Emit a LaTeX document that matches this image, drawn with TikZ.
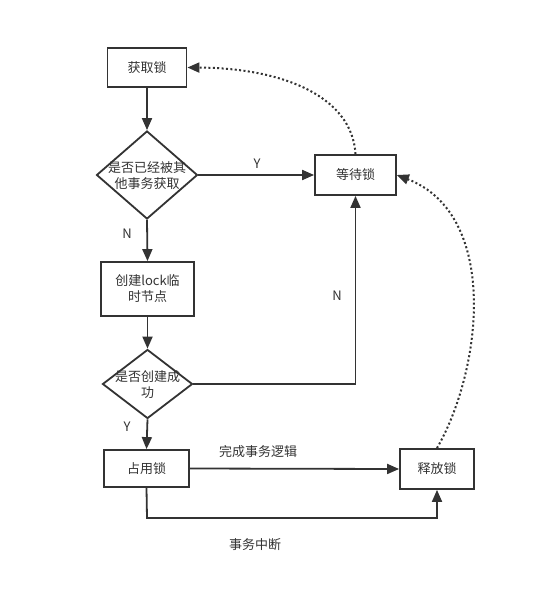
\documentclass[tikz,border=0pt]{standalone}
\usepackage{fontspec}
\newfontfamily\cjk{Noto Sans CJK SC}
\usetikzlibrary{shapes.geometric,arrows.meta}
\definecolor{ln}{HTML}{333333}
\tikzset{
  box/.style={draw=ln, line width=1.8pt, rectangle, inner sep=0pt, align=center, font=\cjk\fontsize{13}{16}\selectfont, text=ln},
  dia/.style={draw=ln, line width=1.8pt, diamond, inner sep=0pt},
  txt/.style={inner sep=0pt, align=center, font=\cjk\fontsize{13}{16}\selectfont, text=ln},
  conn/.style={draw=ln, line width=1.8pt, -{Triangle[length=12pt,width=10pt]}},
  dotc/.style={draw=ln, line width=2pt, dash pattern=on 2pt off 2.4pt, -{Triangle[length=12pt,width=10pt]}},
}
\begin{document}
\begin{tikzpicture}[x=1pt,y=-1pt]
\useasboundingbox (0,0) rectangle (538,596);
\fill[white] (0,0) rectangle (538,596);
\node[box, minimum width=79pt, minimum height=39pt] (get) at (147,67.5) {获取锁};
\node[dia, minimum width=101pt, minimum height=88pt] (d1) at (147,175) {};
\node[txt] (d1t) at (147,176) {是否已经被其\\他事务获取};
\node[box, minimum width=81pt, minimum height=40pt] (wait) at (355.5,175) {等待锁};
\node[box, minimum width=93pt, minimum height=54pt] (create) at (147.5,289) {创建lock临\\时节点};
\node[dia, minimum width=90pt, minimum height=69pt] (d2) at (147.5,384) {};
\node[txt] (d2t) at (147.5,385) {是否创建成\\功};
\node[box, minimum width=85pt, minimum height=37pt] (hold) at (146.5,468.5) {占用锁};
\node[box, minimum width=74pt, minimum height=40pt] (rel) at (437,469) {释放锁};

\node[txt] (ly1) at (257,164) {Y};
\node[txt] (ln1) at (127,234) {N};
\node[txt] (ln2) at (337,296) {N};
\node[txt] (ly2) at (127,427) {Y};
\node[txt] (ldone) at (258,452) {完成事务逻辑};
\node[txt] (lbreak) at (255,545) {事务中断};

\coordinate (c1) at (355.5,384);
\coordinate (c2) at (147,518);
\coordinate (c3) at (437,518);

\draw[conn] (get.south) -- (d1.north);
\draw[conn] (d1.east) -- (wait.west);
\draw[conn] (d1.south) -- (create.north);
\draw[conn] (create.south) -- (d2.north);
\draw[conn] (d2.east) -- (c1) -- (wait.south);
\draw[conn] (d2.south) -- (hold.north);
\draw[conn] (hold.east) -- (rel.west);
\draw[conn] (hold.south) -- (c2) -- (c3) -- (rel.south);
\draw[dotc] (wait.north) .. controls (352,95) and (280,68) .. (get.east);
\draw[dotc] (rel.north) .. controls (482,370) and (500,215) .. (wait.east);
\end{tikzpicture}
\end{document}
